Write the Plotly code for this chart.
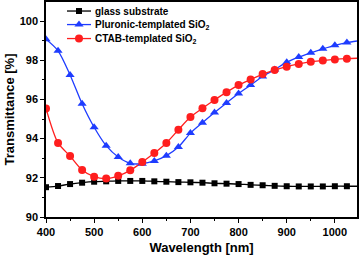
import plotly.graph_objects as go

wavelength = [400, 425, 450, 475, 500, 525, 550, 575, 600, 625, 650, 675, 700,
              725, 750, 775, 800, 825, 850, 875, 900, 925, 950, 975, 1000, 1025]
glass = [91.52, 91.58, 91.68, 91.75, 91.80, 91.82, 91.84, 91.84, 91.84, 91.82, 91.80, 91.78, 91.77,
         91.75, 91.72, 91.70, 91.68, 91.64, 91.62, 91.59, 91.57, 91.56, 91.56, 91.56, 91.57, 91.57]
pluronic = [99.07, 98.48, 97.25, 95.78, 94.58, 93.64, 93.06, 92.74, 92.72, 92.86, 93.13, 93.57, 94.28,
            94.81, 95.33, 95.82, 96.30, 96.73, 97.17, 97.52, 97.90, 98.16, 98.38, 98.58, 98.76, 98.90]
ctab = [95.54, 93.78, 93.11, 92.40, 92.06, 91.96, 92.10, 92.38, 92.80, 93.26, 93.78, 94.45, 95.10,
        95.55, 95.97, 96.37, 96.73, 97.01, 97.29, 97.50, 97.67, 97.81, 97.92, 97.98, 98.04, 98.08]
# curve continues to the right edge of the frame
end_wavelength = 1046
glass_end, pluronic_end, ctab_end = 91.57, 98.98, 98.10

labels = ["glass substrate", "Pluronic-templated SiO<sub>2</sub>", "CTAB-templated SiO<sub>2</sub>"]
x_ticks = [400, 500, 600, 700, 800, 900, 1000]
y_ticks = [90, 92, 94, 96, 98, 100]

BLACK = "#000000"
BLUE = "#1e3cff"
RED = "#ff1e1e"
FONT = "Liberation Sans"

styles = [(BLACK, "square", 6), (BLUE, "triangle-up", 8), (RED, "circle", 8)]
values = [glass, pluronic, ctab]
ends = [glass_end, pluronic_end, ctab_end]

# legend layout (fractions of the plot area)
LEG_X0, LEG_X1, LEG_TX = 0.0675, 0.1447, 0.151
LEG_Y = [0.958, 0.895, 0.830]

fig = go.Figure()
for vals, end, (color, sym, size) in zip(values, ends, styles):
    fig.add_trace(go.Scatter(
        x=wavelength + [end_wavelength], y=vals + [end], mode="lines",
        line=dict(color=color, width=1.3, shape="spline", smoothing=0.8),
        showlegend=False, hoverinfo="skip"))
for name, vals, (color, sym, size) in zip(labels, values, styles):
    fig.add_trace(go.Scatter(
        x=wavelength, y=vals, mode="markers", name=name, showlegend=False,
        marker=dict(symbol=sym, size=size, color=color, line=dict(width=0))))

# manual legend (keeps the compact row spacing of the original)
for name, ly, (color, sym, size) in zip(labels, LEG_Y, styles):
    fig.add_trace(go.Scatter(
        x=[LEG_X0, LEG_X1], y=[ly, ly], mode="lines", xaxis="x2", yaxis="y2",
        line=dict(color=color, width=1.3), showlegend=False, hoverinfo="skip"))
    fig.add_trace(go.Scatter(
        x=[(LEG_X0 + LEG_X1) / 2], y=[ly], mode="markers", xaxis="x2", yaxis="y2",
        marker=dict(symbol=sym, size=size, color=color, line=dict(width=0)),
        showlegend=False, hoverinfo="skip"))
    fig.add_annotation(x=LEG_TX, y=ly, xref="x2", yref="y2", text=name, showarrow=False,
                       xanchor="left", yanchor="middle",
                       font=dict(family=FONT, size=10, color="black", weight="bold"))

axis_common = dict(
    showline=True, linecolor="black", linewidth=1.5, mirror=True,
    ticks="outside", ticklen=4, tickwidth=1.2, tickcolor="black",
    showgrid=False, zeroline=False, automargin=False,
    tickfont=dict(family=FONT, size=11, color="black", weight="bold"),
)

fig.update_xaxes(
    range=[400, end_wavelength], tickvals=x_ticks,
    minor=dict(ticks="outside", ticklen=2.5, tickwidth=1, tickcolor="black", dtick=50, tick0=400),
    title=dict(text="Wavelength [nm]", font=dict(family=FONT, size=13, color="black", weight="bold"),
               standoff=6),
    **axis_common)
fig.update_yaxes(
    range=[90, 100.97], tickvals=y_ticks,
    minor=dict(ticks="outside", ticklen=2.5, tickwidth=1, tickcolor="black", dtick=1, tick0=90),
    title=dict(text="Transmittance [%]", font=dict(family=FONT, size=13, color="black", weight="bold"),
               standoff=2),
    **axis_common)

fig.update_layout(
    width=360, height=257,
    margin=dict(l=46, r=3, t=2, b=40),
    paper_bgcolor="white", plot_bgcolor="white",
    showlegend=False,
    xaxis2=dict(overlaying="x", range=[0, 1], visible=False, fixedrange=True),
    yaxis2=dict(overlaying="y", range=[0, 1], visible=False, fixedrange=True),
)

fig.write_html("out.html", config={"displayModeBar": False},
               post_script="document.body.style.margin='0';")
